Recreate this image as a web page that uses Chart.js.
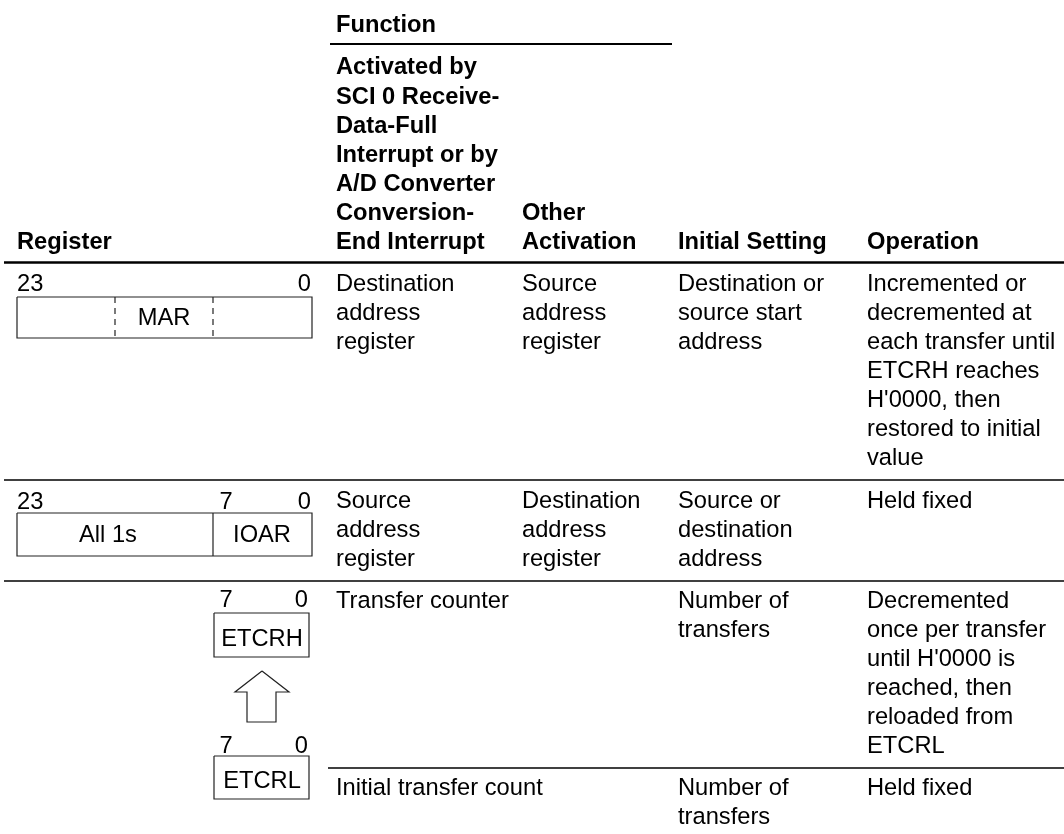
<!DOCTYPE html>
<html>
<head>
<meta charset="utf-8">
<script src="https://cdn.jsdelivr.net/npm/chart.js@4/dist/chart.umd.min.js"></script>
<style>
  html, body { margin: 0; padding: 0; background: #fff; }
  canvas { display: block; }
</style>
</head>
<body>
<canvas id="regChart" width="1064" height="834"></canvas>
<script>
// table content
const groupTitle = 'Function';
const headers = [
    'Register',
    'Activated by\nSCI 0 Receive-\nData-Full\nInterrupt or by\nA/D Converter\nConversion-\nEnd Interrupt',
    'Other\nActivation',
    'Initial Setting',
    'Operation'
];
const rowMar = [
    'Destination\naddress\nregister',
    'Source\naddress\nregister',
    'Destination or\nsource start\naddress',
    "Incremented or\ndecremented at\neach transfer until\nETCRH reaches\nH'0000, then\nrestored to initial\nvalue"
];
const rowIoar = [
    'Source\naddress\nregister',
    'Destination\naddress\nregister',
    'Source or\ndestination\naddress',
    'Held fixed'
];
const rowEtcrh = [
    'Transfer counter',
    '',
    'Number of\ntransfers',
    "Decremented\nonce per transfer\nuntil H'0000 is\nreached, then\nreloaded from\nETCRL"
];
const rowEtcrl = [
    'Initial transfer count',
    '',
    'Number of\ntransfers',
    'Held fixed'
];
const bodyRows = [rowMar, rowIoar, rowEtcrh, rowEtcrl];

// register diagram labels
const fieldNames = ['MAR', 'All 1s', 'IOAR', 'ETCRH', 'ETCRL'];
const bitLabelsMar = ['23', '0'];
const bitLabelsIoar = ['23', '7', '0'];
const bitLabelsEtcr = ['7', '0'];

// layout (page coordinates, 1064 x 834)
const FONT = "'Liberation Sans', Arial, Helvetica, sans-serif";
const SIZE = 23.7;
const colX = [17, 336, 522, 678, 867];
const headerLastY = 241;
const headerStep = 29.17;
const bodyStep = 29;
const rowFirstY = [283, 500, 600, 787];

function box(x0, y0, x1, y1) {
    return [{x: x0, y: y0}, {x: x1, y: y0}, {x: x1, y: y1}, {x: x0, y: y1}, {x: x0, y: y0}];
}
function seg(x0, y0, x1, y1) {
    return [{x: x0, y: y0}, {x: x1, y: y1}];
}
function lineSet(points, width, dash, color) {
    return {
        data: points,
        showLine: true,
        borderColor: color || '#000',
        borderWidth: width,
        borderDash: dash || [],
        pointRadius: 0,
        fill: false,
        tension: 0
    };
}

const datasets = [
    lineSet(seg(330, 44, 672, 44), 2),
    lineSet(seg(4, 262.5, 1064, 262.5), 2.5),
    lineSet(seg(4, 480, 1064, 480), 1.5),
    lineSet(seg(4, 581, 1064, 581), 1.5),
    lineSet(seg(328, 768, 1064, 768), 1.5),
    lineSet(box(17, 297, 312, 338), 1.2, null, '#222'),
    lineSet(seg(115, 297, 115, 338), 1.2, [6, 5], '#222'),
    lineSet(seg(213, 297, 213, 338), 1.2, [6, 5], '#222'),
    lineSet(box(17, 513, 312, 556), 1.2, null, '#222'),
    lineSet(seg(213, 513, 213, 556), 1.2, null, '#222'),
    lineSet(box(214, 613, 309, 657), 1.2, null, '#222'),
    lineSet(box(214, 756, 309, 799), 1.2, null, '#222'),
    lineSet([{x: 262, y: 671}, {x: 289, y: 692}, {x: 276, y: 692}, {x: 276, y: 722},
             {x: 247, y: 722}, {x: 247, y: 692}, {x: 235, y: 692}, {x: 262, y: 671}], 1.2, null, '#222')
];

// text items: [text, x, centerY, align, bold]
const texts = [];
texts.push([groupTitle, colX[1], 23.5, 'left', true]);
headers.forEach((h, i) => {
    const lines = h.split('\n');
    lines.forEach((ln, j) => {
        texts.push([ln, colX[i], headerLastY - (lines.length - 1 - j) * headerStep, 'left', true]);
    });
});
bodyRows.forEach((row, r) => {
    row.forEach((cell, c) => {
        if (!cell) return;
        cell.split('\n').forEach((ln, j) => {
            texts.push([ln, colX[c + 1], rowFirstY[r] + j * bodyStep, 'left', false]);
        });
    });
});
texts.push([bitLabelsMar[0], 17, 283, 'left', false]);
texts.push([bitLabelsMar[1], 311, 283, 'right', false]);
texts.push([bitLabelsIoar[0], 17, 501, 'left', false]);
texts.push([bitLabelsIoar[1], 226, 501, 'center', false]);
texts.push([bitLabelsIoar[2], 311, 501, 'right', false]);
texts.push([bitLabelsEtcr[0], 226, 599, 'center', false]);
texts.push([bitLabelsEtcr[1], 308, 599, 'right', false]);
texts.push([bitLabelsEtcr[0], 226, 745, 'center', false]);
texts.push([bitLabelsEtcr[1], 308, 745, 'right', false]);
texts.push([fieldNames[0], 164, 317, 'center', false]);
texts.push([fieldNames[1], 108, 534, 'center', false]);
texts.push([fieldNames[2], 262, 534, 'center', false]);
texts.push([fieldNames[3], 262, 638, 'center', false]);
texts.push([fieldNames[4], 262, 780, 'center', false]);

const textPlugin = {
    id: 'tableText',
    afterDatasetsDraw(chart) {
        const ctx = chart.ctx;
        const xs = chart.scales.x, ys = chart.scales.y;
        ctx.save();
        ctx.fillStyle = '#000';
        ctx.textBaseline = 'alphabetic';
        texts.forEach(t => {
            ctx.font = (t[4] ? 'bold ' : '') + SIZE + 'px ' + FONT;
            ctx.textAlign = t[3];
            ctx.fillText(t[0], xs.getPixelForValue(t[1]), ys.getPixelForValue(t[2]) + SIZE * 0.358);
        });
        ctx.restore();
    }
};

new Chart(document.getElementById('regChart'), {
    type: 'scatter',
    data: { datasets: datasets },
    options: {
        responsive: false,
        animation: false,
        devicePixelRatio: 1,
        clip: false,
        layout: { padding: 0 },
        plugins: { legend: { display: false }, tooltip: { enabled: false } },
        scales: {
            x: { type: 'linear', min: 0, max: 1064, display: false },
            y: { type: 'linear', min: 0, max: 834, reverse: true, display: false }
        }
    },
    plugins: [textPlugin]
});
</script>
</body>
</html>
